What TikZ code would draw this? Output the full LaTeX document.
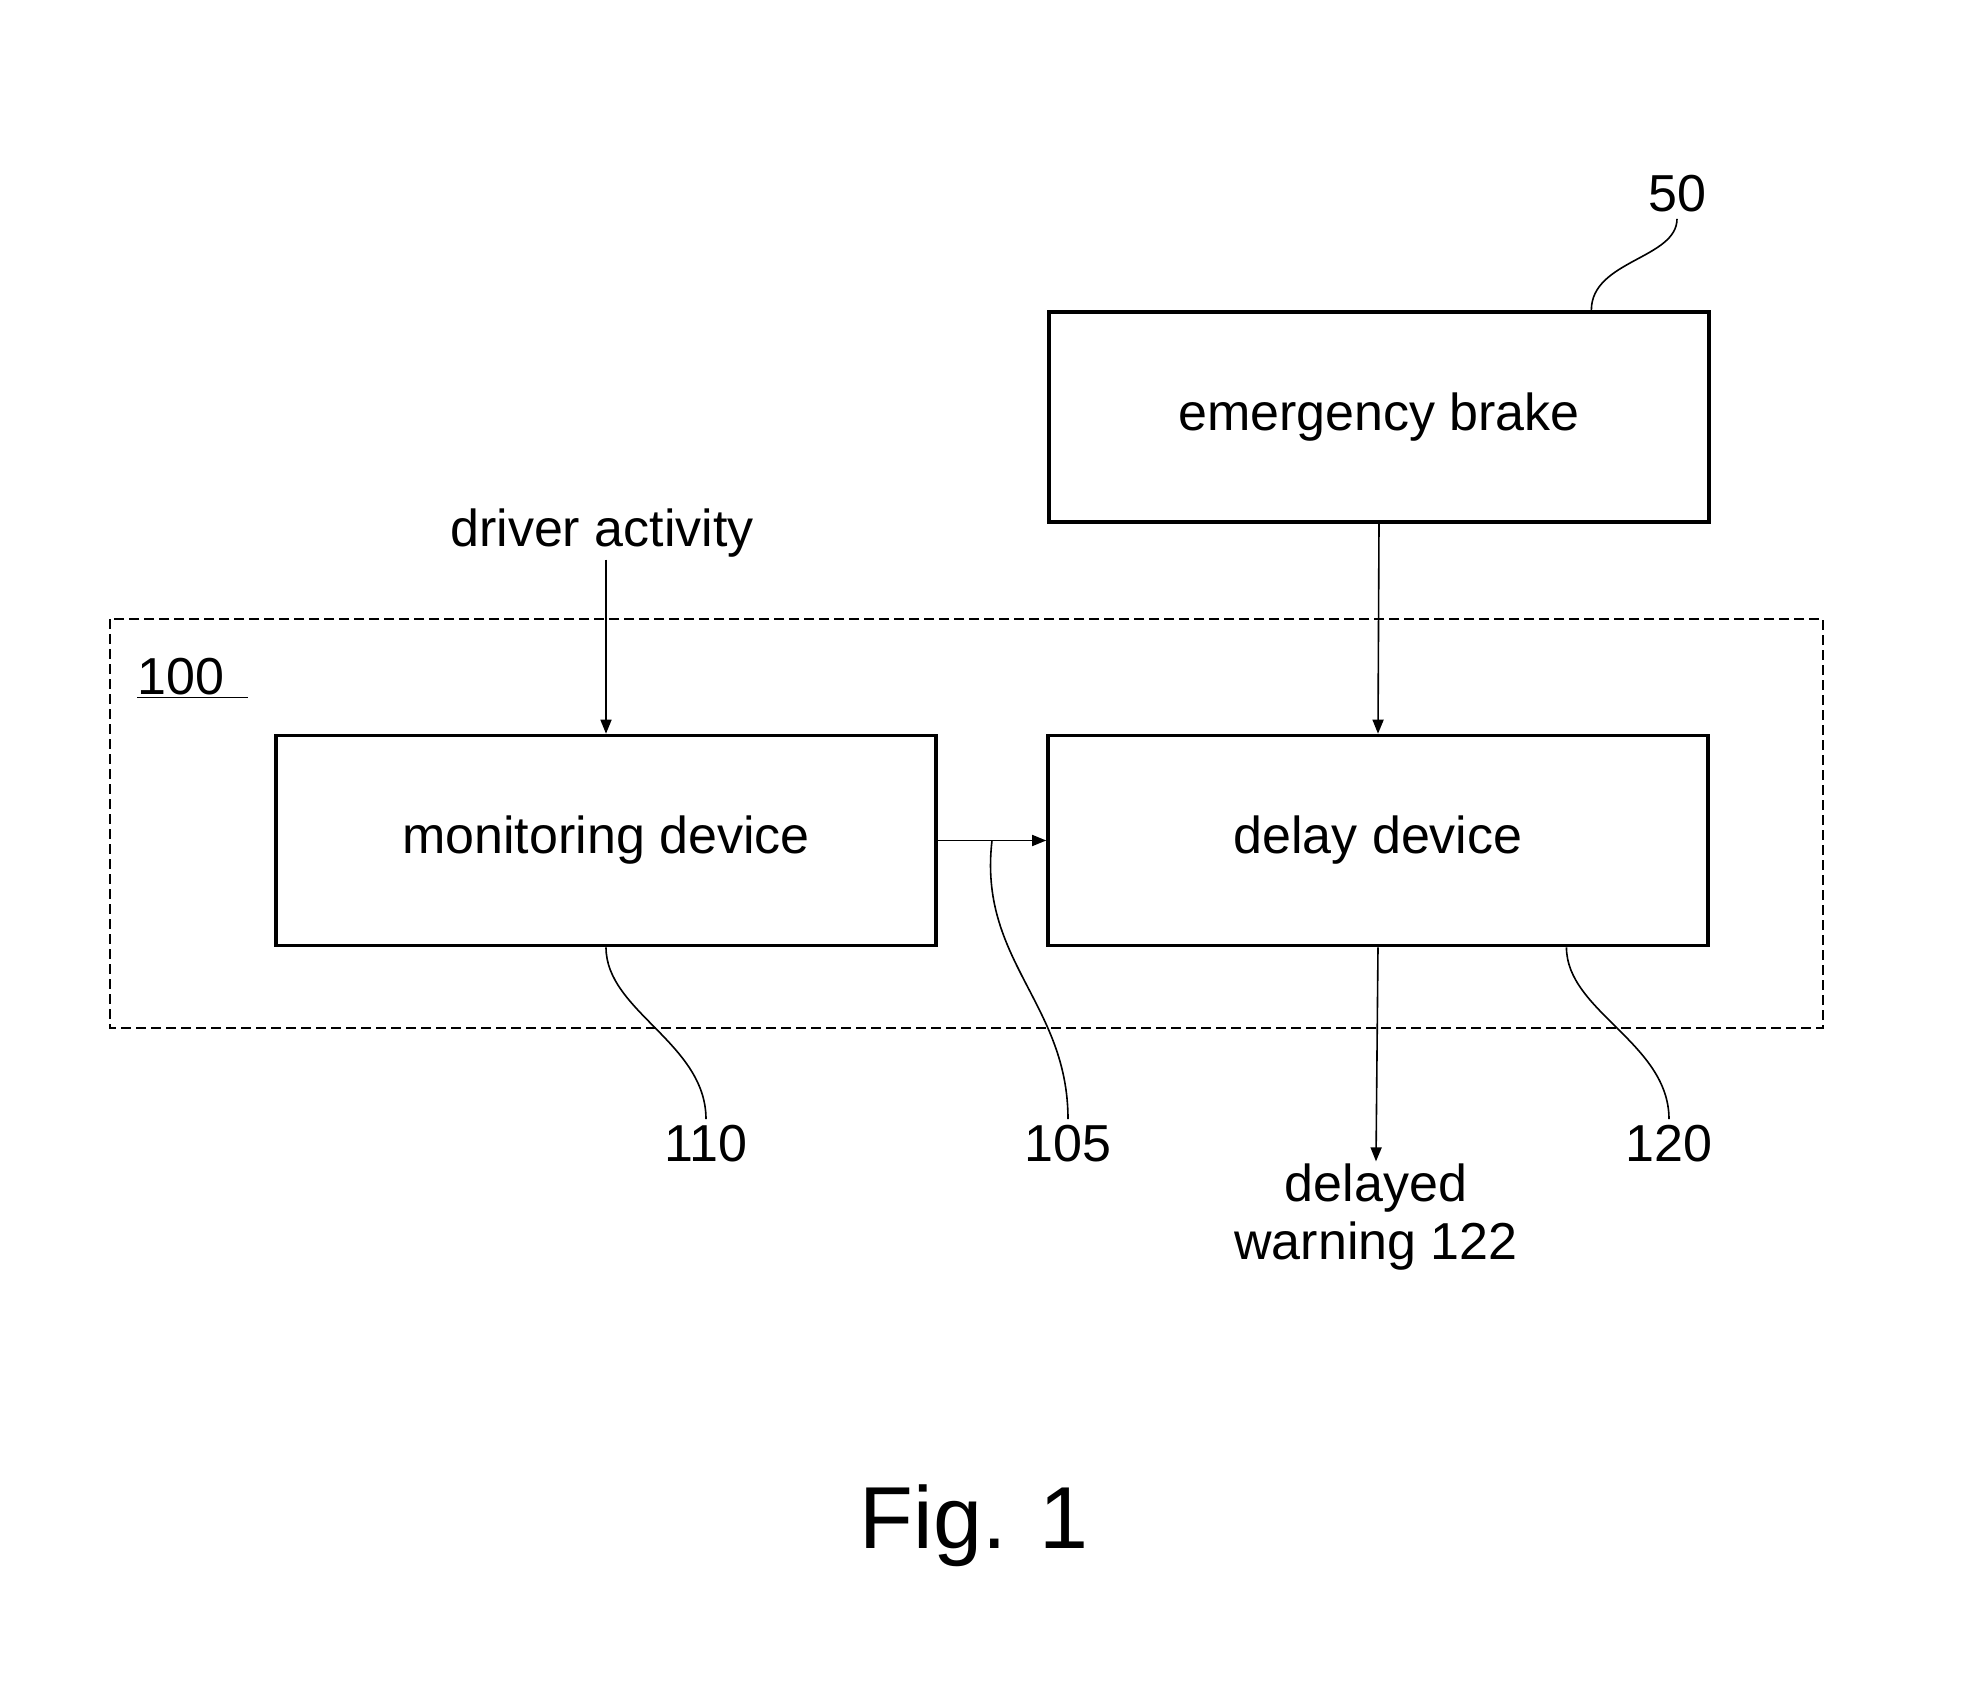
\documentclass[tikz,border=0pt]{standalone}
\usepackage{fontspec}
\setmainfont{Liberation Sans}
\usetikzlibrary{arrows.meta, calc}

\begin{document}
\begin{tikzpicture}[x=0.5pt, y=-0.5pt,
  block/.style={draw, line width=1.8pt, minimum width=330pt, minimum height=105pt, align=center, font=\fontsize{26}{31}\selectfont, inner sep=0pt},
  txt/.style={align=center, font=\fontsize{26}{29}\selectfont, inner sep=1pt},
  num/.style={font=\fontsize{26}{29}\selectfont, inner sep=3pt},
  groupbox/.style={draw, line width=1.4pt, dash pattern=on 5pt off 2.5pt},
  arr/.style={-{Triangle[length=7pt, width=5.5pt]}, line width=0.8pt},
  lead/.style={line width=0.8pt}
]
\useasboundingbox (0,0) rectangle (1988,1701);
\draw[groupbox] (110,619) rectangle (1823,1028);
\node[block] (brake) at (1379,417) {emergency brake};
\node[block] (mon) at (606,840.5) {monitoring device};
\node[block] (delay) at (1378,840.5) {delay device};
\node[txt] (act) at (602,533) {driver activity};
\node[txt] (warn) at (1376,1217) {delayed\\warning 122};
\node[num, anchor=base west, inner sep=0pt] (sysnum) at (137,694) {\underline{100\hspace{0.45em}}};
\node[num] (lbl50) at (1677,194) {50};
\node[num] (lbl110) at (706,1144) {110};
\node[num] (lbl105) at (1068,1144) {105};
\node[num] (lbl120) at (1669,1144) {120};
\node[font=\fontsize{44}{50}\selectfont] (fig) at (974,1526) {Fig. 1};
\draw[arr] (act.south -| mon.north) -- (mon.north);
\draw[arr] (brake.south) -- (delay.north);
\draw[arr] (mon.east) -- (delay.west);
\draw[arr] (delay.south) -- (warn.north);
\coordinate (p50) at ($(brake.north west)!0.82!(brake.north east)$);
\coordinate (p105) at ($(mon.east)!0.5!(delay.west)$);
\coordinate (p120) at ($(delay.south west)!0.784!(delay.south east)$);
\draw[lead] (p50) .. controls +(0,-50) and +(0,40) .. (lbl50.south);
\draw[lead] (mon.south) .. controls +(0,64) and +(0,-76) .. (lbl110.north);
\draw[lead] (p105) .. controls +(-14,120) and +(0,-116) .. (lbl105.north);
\draw[lead] (p120) .. controls +(0,64) and +(0,-76) .. (lbl120.north);
\end{tikzpicture}
\end{document}
